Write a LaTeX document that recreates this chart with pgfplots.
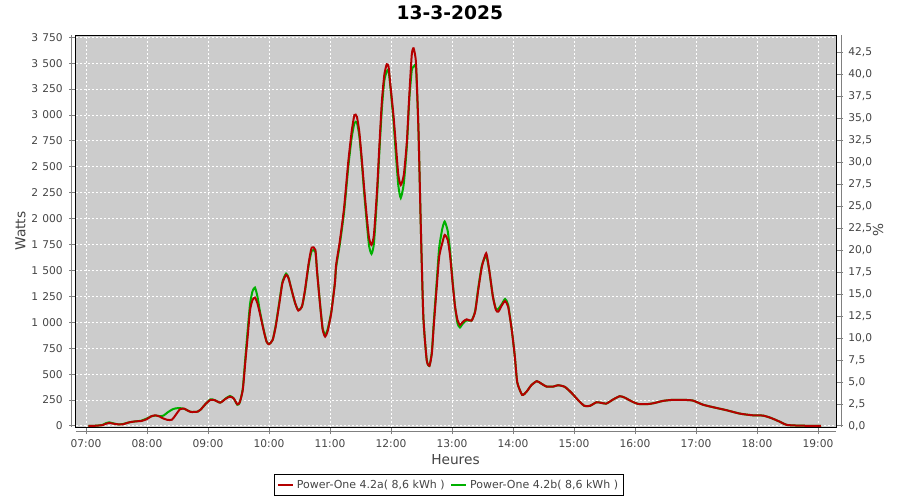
\documentclass[border=0pt]{standalone}
\usepackage{fontspec}
\setmainfont{DejaVu Sans}
\usepackage{pgfplots}
\usepackage{pgfplotstable}
\pgfplotsset{compat=1.18}
\definecolor{redline}{RGB}{180,0,0}
\definecolor{greenline}{RGB}{0,176,0}
\definecolor{bggray}{RGB}{204,204,204}
\definecolor{tickgray}{RGB}{68,68,68}
\definecolor{axgray}{RGB}{128,128,128}

\pgfplotstableread{
t w
7.04 0
7.15 2
7.27 8
7.33 22
7.38 29
7.45 22
7.52 16
7.60 16
7.71 35
7.82 45
7.90 47
7.99 64
8.07 93
8.14 103
8.21 90
8.26 74
8.34 58
8.41 61
8.47 106
8.54 161
8.61 167
8.66 151
8.72 135
8.83 138
8.88 158
8.96 212
9.04 252
9.11 249
9.20 225
9.29 262
9.36 283
9.42 267
9.48 209
9.52 228
9.57 347
9.61 605
9.65 862
9.69 1120
9.73 1216
9.77 1239
9.81 1184
9.85 1087
9.91 927
9.96 814
10.00 788
10.06 830
10.11 959
10.17 1184
10.22 1377
10.28 1458
10.32 1425
10.37 1313
10.43 1184
10.48 1113
10.54 1152
10.59 1313
10.65 1570
10.70 1721
10.76 1699
10.79 1474
10.84 1152
10.88 927
10.92 862
10.96 911
11.02 1087
11.08 1377
11.10 1553
11.16 1779
11.23 2100
11.30 2550
11.355 2839
11.40 3000
11.44 2985
11.48 2839
11.52 2582
11.56 2293
11.60 2036
11.64 1811
11.68 1746
11.72 1843
11.77 2261
11.81 2711
11.85 3129
11.89 3386
11.93 3490
11.96 3466
11.99 3290
12.04 3000
12.08 2711
12.12 2422
12.16 2325
12.21 2422
12.26 2743
12.30 3193
12.34 3579
12.37 3644
12.41 3500
12.45 2856
12.49 1891
12.53 1055
12.585 637
12.63 580
12.67 701
12.70 958
12.75 1344
12.79 1634
12.84 1763
12.88 1843
12.93 1795
12.97 1634
13.01 1376
13.05 1151
13.09 1023
13.13 974
13.18 1006
13.24 1029
13.32 1016
13.38 1103
13.43 1312
13.49 1537
13.56 1666
13.61 1505
13.67 1248
13.72 1119
13.76 1103
13.82 1167
13.87 1206
13.92 1151
13.98 926
14.03 669
14.07 420
14.15 300
14.22 329
14.30 393
14.39 432
14.46 410
14.55 380
14.66 380
14.74 393
14.85 377
14.96 319
15.07 248
15.17 194
15.26 194
15.37 229
15.45 222
15.53 216
15.64 255
15.75 287
15.83 274
15.94 239
16.05 213
16.19 210
16.30 219
16.46 242
16.62 252
16.79 252
16.95 245
17.11 206
17.28 181
17.50 152
17.72 119
17.93 103
18.10 100
18.23 77
18.37 42
18.49 10
18.70 3
19.05 0
}\redtab

\pgfplotstableread{
t w
7.04 0
7.15 2
7.27 10
7.33 28
7.38 35
7.45 25
7.52 16
7.60 18
7.71 35
7.82 45
7.90 50
7.99 70
8.07 93
8.14 100
8.21 95
8.27 100
8.34 132
8.42 161
8.47 170
8.54 172
8.61 165
8.66 151
8.72 135
8.83 138
8.88 158
8.96 212
9.04 257
9.11 249
9.20 225
9.29 265
9.36 290
9.42 267
9.48 205
9.52 225
9.57 360
9.61 640
9.65 920
9.69 1180
9.73 1300
9.77 1335
9.81 1250
9.85 1110
9.91 935
9.96 814
10.00 790
10.06 830
10.11 970
10.17 1200
10.22 1390
10.28 1470
10.32 1430
10.37 1313
10.43 1180
10.48 1120
10.54 1150
10.59 1300
10.65 1550
10.70 1690
10.76 1680
10.79 1480
10.84 1160
10.88 940
10.92 880
10.96 930
11.02 1100
11.08 1380
11.10 1530
11.16 1750
11.23 2060
11.30 2500
11.355 2780
11.40 2920
11.44 2930
11.48 2800
11.52 2550
11.56 2250
11.60 1980
11.64 1740
11.68 1660
11.72 1760
11.77 2200
11.81 2650
11.85 3060
11.89 3330
11.93 3420
11.96 3430
11.99 3270
12.04 2950
12.08 2620
12.12 2320
12.16 2200
12.21 2340
12.26 2700
12.30 3150
12.34 3430
12.37 3466
12.41 3450
12.45 2856
12.49 1891
12.53 1055
12.585 640
12.63 580
12.67 720
12.70 990
12.75 1400
12.79 1720
12.84 1900
12.88 1972
12.93 1880
12.97 1680
13.01 1400
13.05 1150
13.09 990
13.13 950
13.18 990
13.24 1020
13.32 1016
13.38 1110
13.43 1330
13.49 1550
13.56 1640
13.61 1500
13.67 1250
13.72 1130
13.76 1130
13.82 1180
13.87 1225
13.92 1170
13.98 926
14.03 669
14.07 420
14.15 300
14.22 329
14.30 393
14.39 432
14.46 410
14.55 380
14.66 380
14.74 393
14.85 377
14.96 319
15.07 248
15.17 194
15.26 194
15.37 229
15.45 222
15.53 216
15.64 255
15.75 287
15.83 274
15.94 239
16.05 213
16.19 210
16.30 219
16.46 242
16.62 252
16.79 252
16.95 245
17.11 206
17.28 181
17.50 152
17.72 119
17.93 103
18.10 100
18.23 77
18.37 42
18.49 10
18.70 3
19.05 0
}\greentab

\pgfplotsset{
  every tick label/.append style={font=\fontsize{8}{10}\selectfont, text=tickgray},
}

\begin{document}
\begin{tikzpicture}
\useasboundingbox (-57pt,-54.75pt) rectangle (618pt,320.25pt);
\begin{axis}[
  name=main,
  at={(0,0)}, anchor=south west,
  scale only axis, width=570pt, height=294pt,
  xmin=6.836, xmax=19.295, ymin=-10, ymax=3772,
  axis background/.style={fill=bggray},
  xtick={7,8,...,19},
  xticklabels={07:00,08:00,09:00,10:00,11:00,12:00,13:00,14:00,15:00,16:00,17:00,18:00,19:00},
  ytick={0,250,...,3750},
  scaled y ticks=false,
  xtick pos=left, ytick pos=left,
  grid=major,
  grid style={white, line width=0.75pt, dash pattern=on 1.5pt off 1.5pt},
  tick align=outside, major tick length=5.25pt,
  tick style={axgray, line width=0.75pt},
  axis line style={black, line width=0.75pt},
  /pgf/number format/assume math mode=true,
  /pgf/number format/1000 sep={\hspace{0.4em}},
  yticklabel style={xshift=-1.2pt},
  xticklabel style={yshift=-0.3pt},
  title={\textbf{13-3-2025}},
  title style={font=\fontsize{14}{16}\selectfont, at={(axis description cs:0.492,1)}, anchor=center, yshift=10.5pt},
  xlabel={Heures},
  xlabel style={font=\fontsize{10.3}{12}\selectfont, text=tickgray, at={(axis description cs:0.4993,-0.0842)}, anchor=center},
  ylabel={Watts},
  ylabel style={font=\fontsize{10.3}{12}\selectfont, text=tickgray, at={(axis description cs:-0.073,0.5)}, anchor=center},
  legend columns=2,
  legend style={at={(axis description cs:0.4906,-0.1492)}, anchor=center, draw=black, line width=0.75pt, fill=white,
    font=\fontsize{8.25}{10}\selectfont, text=tickgray, inner xsep=2pt, inner ysep=2pt,
    /tikz/every even column/.append style={column sep=2pt}},
  legend image code/.code={\draw[#1] (0pt,0pt) -- (11.5pt,0pt);},
]
\addlegendimage{redline, line width=1.5pt}
\addlegendentry{Power-One 4.2a( 8,6 kWh )}
\addlegendimage{greenline, line width=1.5pt}
\addlegendentry{Power-One 4.2b( 8,6 kWh )}
\addplot[greenline, line width=1.5pt, smooth, tension=0.35, forget plot] table[x=t, y=w] {\greentab};
\addplot[redline, line width=1.5pt, smooth, tension=0.35, forget plot] table[x=t, y=w] {\redtab};
\end{axis}
\begin{axis}[
  at={(0,0)}, anchor=south west,
  scale only axis, width=570pt, height=294pt,
  xmin=6.836, xmax=19.295, ymin=-0.114, ymax=44.51,
  axis y line*=right, axis x line=none,
  ytick={0,2.5,5,7.5,10,12.5,15,17.5,20,22.5,25,27.5,30,32.5,35,37.5,40,42.5},
  tick align=outside, major tick length=5.25pt,
  tick style={axgray, line width=0.75pt},
  axis line style={black, line width=0.75pt},
  /pgf/number format/assume math mode=true,
  yticklabel style={/pgf/number format/.cd, fixed, fixed zerofill, precision=1, use comma, /tikz/.cd, xshift=0.5pt},
  ylabel={\%},
  ylabel style={font=\fontsize{10.3}{12}\selectfont, text=tickgray, at={(axis description cs:1.0553,0.5026)}, anchor=center, rotate=180},
]
\addplot[draw=none, forget plot] coordinates {(7,0)};
\end{axis}
\draw[axgray, line width=0.75pt] ([xshift=-3pt]main.south west) -- ([xshift=-3pt]main.north west);
\draw[axgray, line width=0.75pt] ([yshift=-3pt]main.south west) -- ([yshift=-3pt]main.south east);
\draw[axgray, line width=0.75pt] ([xshift=4pt]main.south east) -- ([xshift=4pt]main.north east);
\end{tikzpicture}
\end{document}
